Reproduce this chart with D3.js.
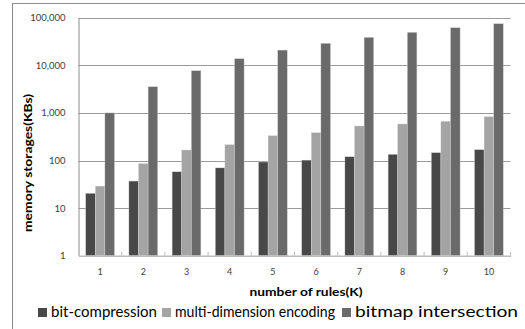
<!DOCTYPE html>
<html>
<head>
<meta charset="utf-8">
<script src="https://cdn.jsdelivr.net/npm/d3@7"></script>
<style>
  html, body { margin: 0; padding: 0; background: #fff; }
  svg { display: block; }
  text { font-family: Lato, "Open Sans", sans-serif; }
</style>
</head>
<body>
<svg id="chart" width="525" height="329"></svg>
<script>
// Memory storage (KBs) per rule-set size, log scale
const categories = ["1", "2", "3", "4", "5", "6", "7", "8", "9", "10"];
const seriesNames = ["bit-compression", "multi-dimension encoding", "bitmap intersection"];
const bitCompression = [20.5, 37, 58, 70, 93, 102, 120, 135, 146, 169];
const multiDimension = [29, 86, 166, 215, 332, 384, 531, 585, 666, 832];
const bitmapIntersection = [1000, 3550, 7700, 13760, 20900, 29000, 38700, 49300, 61700, 74800];
const yTicks = [1, 10, 100, 1000, 10000, 100000];
const colors = ["#484848", "#a4a4a4", "#6a6a6a"];

const series = [bitCompression, multiDimension, bitmapIntersection];

const svg = d3.select("#chart");

// Outer chart frame
svg.append("rect")
  .attr("x", 12.5).attr("y", 3.5)
  .attr("width", 540).attr("height", 360)
  .attr("fill", "none").attr("stroke", "#8c8c8c").attr("stroke-width", 1);

const plot = { left: 78.5, right: 510.5, top: 17.7, bottom: 255.7 };

const x = d3.scaleBand().domain(categories).range([plot.left, plot.right]);
const xInner = d3.scaleBand().domain(d3.range(3))
  .range([0, x.bandwidth()]).paddingOuter(0.75).paddingInner(0);
const y = d3.scaleLog().domain([1, 100000]).range([plot.bottom, plot.top]);

// Horizontal gridlines
svg.append("g").selectAll("line").data(yTicks.slice(1)).join("line")
  .attr("x1", plot.left).attr("x2", plot.right)
  .attr("y1", d => Math.round(y(d)) + 0.5).attr("y2", d => Math.round(y(d)) + 0.5)
  .attr("stroke", "#9a9a9a").attr("stroke-width", 1);

// Bars
const groups = svg.append("g").selectAll("g").data(categories).join("g")
  .attr("transform", d => `translate(${x(d)},0)`);
groups.selectAll("rect")
  .data((c, i) => series.map((s, k) => ({ k, v: s[i] })))
  .join("rect")
  .attr("x", d => xInner(d.k))
  .attr("width", xInner.bandwidth())
  .attr("y", d => y(d.v))
  .attr("height", d => plot.bottom - y(d.v))
  .attr("fill", d => colors[d.k])
  .attr("stroke", "#d8d8d8").attr("stroke-width", 0.4);

// Y axis
const yAxis = d3.axisLeft(y).tickValues(yTicks).tickFormat(d3.format(",")).tickSize(0).tickPadding(13);
const yg = svg.append("g").attr("transform", `translate(${plot.left},0)`).call(yAxis);
yg.select(".domain").attr("stroke", "#8c8c8c");
yg.selectAll("text").attr("font-size", 9.5).attr("fill", "#404040")
  .style("font-family", "Lato, sans-serif");

// X axis
const xAxis = d3.axisBottom(x).tickSize(0).tickPadding(13);
const xg = svg.append("g").attr("transform", `translate(0,${plot.bottom})`).call(xAxis);
xg.select(".domain").attr("stroke", "#bcbcbc").attr("stroke-width", 1.5);
xg.selectAll("text").attr("font-size", 9).attr("fill", "#404040")
  .style("font-family", "Lato, sans-serif");
// Tick marks between categories
svg.append("g").selectAll("line").data(categories).join("line")
  .attr("x1", d => x(d) + x.bandwidth())
  .attr("x2", d => x(d) + x.bandwidth())
  .attr("y1", plot.bottom).attr("y2", plot.bottom - 4)
  .attr("stroke", "#bcbcbc").attr("stroke-width", 1);

// Axis titles
svg.append("text")
  .attr("x", 306).attr("y", 296)
  .attr("text-anchor", "middle")
  .attr("font-size", 12).attr("font-weight", "bold").attr("fill", "#000")
  .attr("textLength", 113).attr("lengthAdjust", "spacingAndGlyphs")
  .text("number of rules(K)");

svg.append("text")
  .attr("transform", "translate(32,163) rotate(-90)")
  .attr("text-anchor", "middle")
  .attr("font-size", 12).attr("font-weight", "bold").attr("fill", "#000")
  .attr("textLength", 138).attr("lengthAdjust", "spacingAndGlyphs")
  .text("memory storages(KBs)");

// Legend
const legendItems = [
  { x: 38, w: 106, name: seriesNames[0], c: colors[0] },
  { x: 162, w: 160, name: seriesNames[1], c: colors[1] },
  { x: 342, w: 163, name: seriesNames[2], c: colors[2] }
];
const lg = svg.append("g").selectAll("g").data(legendItems).join("g")
  .attr("transform", d => `translate(${d.x},317)`);
lg.append("rect").attr("x", 0).attr("y", -9).attr("width", 9).attr("height", 9)
  .attr("fill", d => d.c);
lg.append("text").attr("x", 13).attr("y", 0)
  .attr("font-size", 15).attr("fill", "#000")
  .attr("textLength", d => d.w).attr("lengthAdjust", "spacingAndGlyphs")
  .text(d => d.name);
</script>
</body>
</html>
